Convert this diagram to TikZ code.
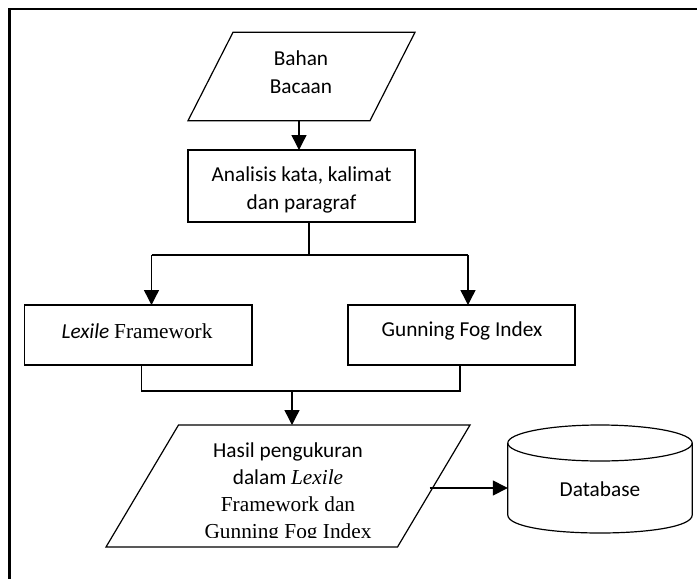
\documentclass[tikz,border=0pt]{standalone}
\usepackage{fontspec}
\setmainfont{Carlito}
\newfontfamily\timesf{Liberation Serif}
\usetikzlibrary{arrows.meta,calc}
\begin{document}
\begin{tikzpicture}[x=1pt,y=-1pt,
  every node/.style={inner sep=0pt,outer sep=0pt},
  boxstyle/.style={draw,line width=1.2pt,rectangle},
  shapeline/.style={line width=1.2pt},
  txt/.style={align=center,font=\fontsize{21.3}{28}\selectfont},
  arr/.style={line width=1.4pt,-{Triangle[length=15pt,width=15pt]}},
  conn/.style={line width=1.4pt}]
\useasboundingbox (0,0) rectangle (697,579);
% frame
\draw[line width=2.4pt] (697,9) -- (9.5,9) -- (9.5,579);
% shapes (parallelogram cores as invisible rectangles)
\node[minimum width=182pt,minimum height=88.4pt] (bahan) at (301.5,76.5) {};
\draw[shapeline] ($(bahan.north west)+(22.5,0)$) -- ($(bahan.north east)+(22.5,0)$) -- ($(bahan.south east)+(-22.5,0)$) -- ($(bahan.south west)+(-22.5,0)$) -- cycle;
\node[boxstyle,minimum width=227pt,minimum height=72pt] (analisis) at (301.5,186) {};
\node[boxstyle,minimum width=227.5pt,minimum height=60pt] (lexile) at (138.25,335) {};
\node[boxstyle,minimum width=227pt,minimum height=60pt] (gunning) at (461.5,335) {};
\node[minimum width=291.5pt,minimum height=122pt] (hasil) at (288,486) {};
\draw[shapeline] ($(hasil.north west)+(36.25,0)$) -- ($(hasil.north east)+(36.25,0)$) -- ($(hasil.south east)+(-36.25,0)$) -- ($(hasil.south west)+(-36.25,0)$) -- cycle;
\node[minimum width=184.4pt,minimum height=20pt] (db) at (600,487) {};
% cylinder
\draw[shapeline] (507.8,443) -- (507.8,515) .. controls (507.8,539) and (692.2,539) .. (692.2,515) -- (692.2,443);
\draw[shapeline] (600,443) ellipse[x radius=92.2,y radius=18];
% texts
\node[txt] (tbahan) at (301,72) {Bahan\\Bacaan};
\node[txt] (tanalisis) at (301.5,190) {Analisis kata, kalimat\\dan paragraf};
\node[txt] (tlexile) at (137,331) {\itshape Lexile\upshape\ {\timesf Framework}};
\node[txt] (tgunning) at (462,331) {Gunning Fog Index};
\begin{scope}
\clip (0,0) rectangle (697,537);
\node[align=center,font=\fontsize{21.3}{27}\selectfont] (thasil) at (288,493) {Hasil pengukuran\\dalam {\timesf\itshape Lexile}\\{\timesf Framework dan}\\{\timesf Gunning Fog Index}};
\end{scope}
\node[txt] (tdb) at (600,489) {Database};
% connectors
\coordinate (jT) at (309,255);
\coordinate (jL) at (151.5,255);
\coordinate (jR) at (468,255);
\coordinate (kL) at (141.5,391);
\coordinate (kR) at (460,391);
\coordinate (kM) at (292,391);
\coordinate (aB) at (299,0);
\coordinate (hE) at (429.5,488);
\draw[arr] (aB |- bahan.south) -- (aB |- analisis.north);
\draw[conn] (jT |- analisis.south) -- (jT);
\draw[conn] (jL) -- (jR);
\draw[arr] (jL) -- (jL |- lexile.north);
\draw[arr] (jR) -- (jR |- gunning.north);
\draw[conn] (kL |- lexile.south) -- (kL) -- (kR) -- (kR |- gunning.south);
\draw[arr] (kM) -- (kM |- hasil.north);
\draw[arr] (hE) -- (hE -| db.west);
\end{tikzpicture}
\end{document}
